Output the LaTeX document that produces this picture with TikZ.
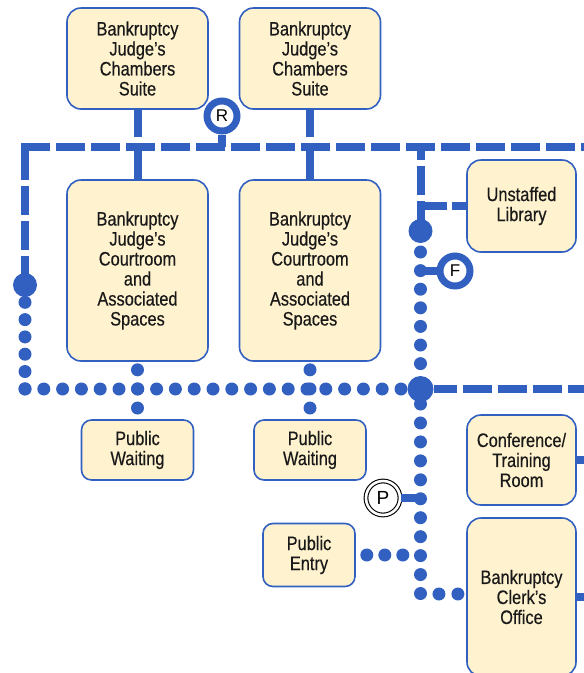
\documentclass[tikz,border=0pt]{standalone}
\usepackage{fontspec}
\setmainfont[FakeStretch=0.84,FakeBold=0.4]{Liberation Sans}
\newfontfamily\markfont{Liberation Sans}
\usetikzlibrary{calc}

\definecolor{planblue}{RGB}{50,96,192}
\definecolor{roomfill}{RGB}{255,242,206}

\begin{document}
\begin{tikzpicture}[x=1pt,y=-1pt,
        room/.style={draw=planblue,line width=1.6pt,fill=roomfill,rounded corners=14pt,
            align=center,inner sep=0pt,text=black!90,font=\fontsize{19.5}{20}\selectfont},
        smallroom/.style={room,rounded corners=10pt},
        corridor/.style={draw=planblue,line width=8pt},
        corrdash/.style={corridor,dash pattern=on 29pt off 6pt},
        corrdot/.style={draw=planblue,line width=13pt,line cap=round,dash pattern=on 0pt off #1},
        corrdot/.default=19pt,
        bigdot/.style={circle,fill=planblue,inner sep=0pt,minimum size=#1},
        bigdot/.default=24pt,
        ring/.style={circle,draw=planblue,line width=7pt,fill=white,inner sep=0pt,
            minimum size=30pt,font=\markfont\fontsize{17}{17}\selectfont},
        pring/.style={circle,draw=black,line width=1.1pt,double=white,double distance=2.6pt,
            fill=white,inner sep=0pt,minimum size=34pt,font=\markfont\fontsize{19}{19}\selectfont}]
        \useasboundingbox (0,0) rectangle (584,673);
        % judges' suites, one column each
        \foreach \c/\x in {1/137.5,2/310}{
            \node[room,minimum width=141pt,minimum height=101pt] (ch\c) at (\x,58.5){Bankruptcy\\Judge’s\\Chambers\\Suite};
            \node[room,minimum width=141pt,minimum height=181pt] (ct\c) at (\x,270.5){Bankruptcy\\Judge’s\\Courtroom\\and\\Associated\\Spaces};
            \node[smallroom,minimum width=112pt,minimum height=60pt] (pw\c) at (\x,450){Public\\Waiting};
        }
        \node[room,minimum width=109pt,minimum height=92pt] (lib) at (521.5,206){Unstaffed\\Library};
        \node[room,minimum width=109pt,minimum height=90pt] (conf) at (521.5,460){Conference/\\Training\\Room};
        \node[room,minimum width=109pt,minimum height=158pt] (clerk) at (521.5,597){Bankruptcy\\Clerk’s\\Office};
        \node[smallroom,minimum width=92pt,minimum height=63pt] (entry) at (309,555){Public\\Entry};
        % junctions and markers
        \coordinate (corrw) at (21,147);
        \coordinate (corre) at (584,147);
        \coordinate (sw) at (25,389);
        \coordinate (turn) at (420.5,594);
        \node[bigdot] (ldot) at (25,285){};
        \node[bigdot] (fdot) at (420.5,231){};
        \node[bigdot=26pt] (hub) at (420.5,389){};
        \node[ring] (rmark) at (222,116){R};
        \node[ring] (fmark) at (455,271){F};
        \node[pring] (pmark) at (383,498){P};
        % restricted corridor
        \draw[corrdash] (corrw) -- (corre);
        \draw[corrdash] ($(corrw)+(4,4)$) -- (ldot.center);
        \draw[corrdash,dash phase=20pt] ($(corrw -| fdot)+(0,4)$) -- (fdot.center);
        \draw[corrdash,dash pattern=on 14pt off 5pt on 100pt off 5pt] (lib.west) -- (lib.west -| fdot);
        \draw[corrdash,dash phase=6pt] (hub.east) -- (hub.east -| corre);
        \draw[corridor] (rmark.south) -- (rmark.south |- corrw);
        \foreach \c in {1,2}{
            \draw[corridor] (ch\c.south) -- ($(ch\c.south |- corrw)+(0,-10)$);
            \draw[corridor] (ct\c.north) -- (ct\c.north |- corrw);
            \draw[corrdot=19.1pt] ($(ct\c.south)+(0,8)$) -- ($(pw\c.north)+(0,-11)$);
        }
        % public circulation
        \draw[corrdot=17.3pt] (ldot.center) -- (sw);
        \draw[corrdot=18.8pt] (sw) -- (hub.center);
        \draw[corrdot=18.6pt] ($(fdot)+(0,21)$) -- ($(hub)+(0,-25)$);
        \draw[corrdot=18.95pt] ($(hub)+(0,15)$) -- (turn) -- ($(clerk.west |- turn)+(-8,0)$);
        \draw[corrdot=18pt] ($(entry.east)+(11,0)$) -- ($(entry.east)+(47,0)$);
        \draw[corridor] (fmark.west) -- (fmark.west -| fdot);
        \draw[corridor] (pmark.east) -- (pmark.east -| fdot);
        \draw[corridor] (conf.east) -- (conf.east -| corre);
        \draw[corridor] (clerk.east) -- (clerk.east -| corre);
\end{tikzpicture}
\end{document}
